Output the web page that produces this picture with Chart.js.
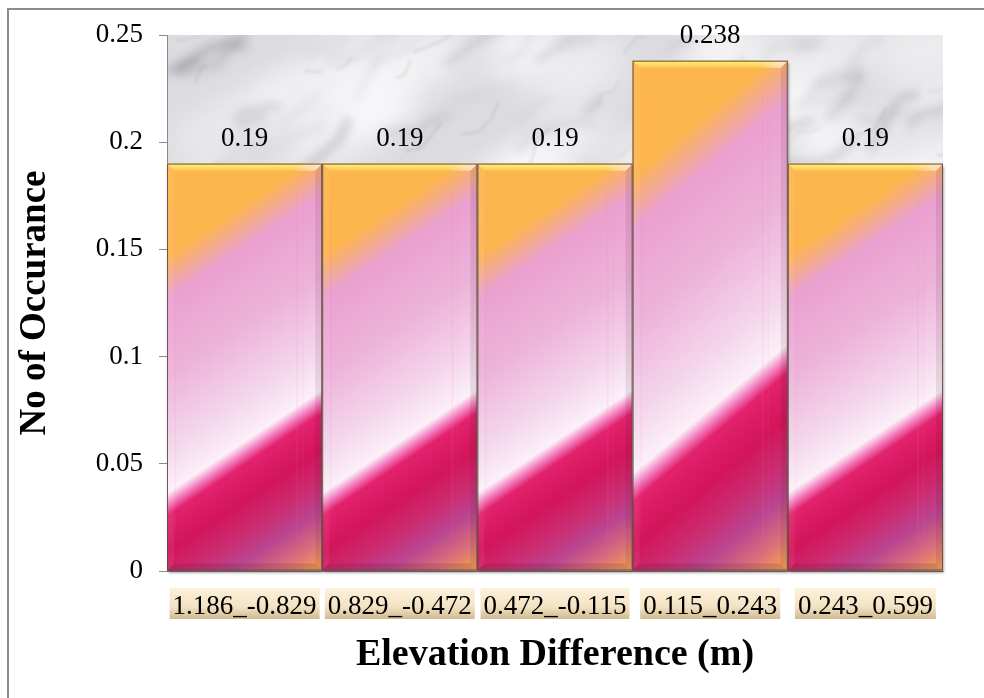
<!DOCTYPE html>
<html>
<head>
<meta charset="utf-8">
<script src="https://cdn.jsdelivr.net/npm/chart.js@4.4.1/dist/chart.umd.min.js"></script>
<style>
  html, body { margin: 0; padding: 0; background: #fff; overflow: hidden; }
  #frame { position: absolute; left: 7px; top: 8px; width: 1200px; height: 900px;
           border: 2px solid #8c8c8c; box-sizing: border-box; }
  #wrap { position: absolute; left: 0; top: 0; width: 984px; height: 698px; }
</style>
</head>
<body>
<div id="frame"></div>
<div id="wrap"><canvas id="chart" width="984" height="698"></canvas></div>
<script>
// Elevation-difference classes and their relative frequency
const categories = ['1.186_-0.829', '0.829_-0.472', '0.472_-0.115', '0.115_0.243', '0.243_0.599'];
const occurrence = [0.19, 0.19, 0.19, 0.238, 0.19];
const yTickValues = [0, 0.05, 0.1, 0.15, 0.2, 0.25];

const SERIF = "'Liberation Serif', 'Times New Roman', serif";

// small seeded generator so the marble texture is the same on every load
function seeded(seed) {
  return function () {
    seed = (seed + 0x6D2B79F5) | 0;
    let t = Math.imul(seed ^ (seed >>> 15), 1 | seed);
    t = (t + Math.imul(t ^ (t >>> 7), 61 | t)) ^ t;
    return ((t ^ (t >>> 14)) >>> 0) / 4294967296;
  };
}

let marble = null;
function makeMarble(w, h) {
  const c = document.createElement('canvas');
  c.width = w; c.height = h;
  const g = c.getContext('2d');
  const r = seeded(23);
  g.fillStyle = '#dcdce0';
  g.fillRect(0, 0, w, h);
  // pale clouds
  g.filter = 'blur(16px)';
  for (let i = 0; i < 90; i++) {
    g.fillStyle = `rgba(250,250,252,${0.35 + 0.5 * r()})`;
    g.beginPath();
    g.ellipse(r() * w, r() * h, 25 + r() * 60, 10 + r() * 25, -0.5, 0, Math.PI * 2);
    g.fill();
  }
  // soft grey smudges
  g.filter = 'blur(5px)';
  for (let i = 0; i < 160; i++) {
    let x = r() * w, y = r() * h;
    const len = 20 + r() * 70;
    const ang = -0.3 - 0.55 * r();
    g.strokeStyle = `rgba(120,120,128,${0.10 + 0.25 * r()})`;
    g.lineWidth = 2 + r() * 7;
    g.lineCap = 'round';
    g.beginPath();
    g.moveTo(x, y);
    for (let s = 0; s < 4; s++) {
      const a = ang + (r() - 0.5) * 1.0;
      x += Math.cos(a) * len / 4;
      y += Math.sin(a) * len / 4;
      g.lineTo(x, y);
    }
    g.stroke();
  }
  // fine veins
  g.filter = 'blur(1.5px)';
  for (let i = 0; i < 70; i++) {
    let x = r() * w, y = r() * h;
    const len = 15 + r() * 45;
    const ang = -0.35 - 0.5 * r();
    g.strokeStyle = `rgba(110,110,118,${0.10 + 0.2 * r()})`;
    g.lineWidth = 1 + r() * 1.5;
    g.beginPath();
    g.moveTo(x, y);
    for (let s = 0; s < 3; s++) {
      const a = ang + (r() - 0.5) * 1.2;
      x += Math.cos(a) * len / 3;
      y += Math.sin(a) * len / 3;
      g.lineTo(x, y);
    }
    g.stroke();
  }
  g.filter = 'none';
  return c;
}

// Diagonal fill of each bar; isolines are slanted in the bar's own unit box
const SLANT = 0.254;
function barGradient(g, L, T, R, B) {
  const w = R - L, h = B - T;
  const a = SLANT / ((1 + SLANT) * w), b = 1 / ((1 + SLANT) * h);
  const n = a * a + b * b;
  const grad = g.createLinearGradient(L, T, L + a / n, T + b / n);
  grad.addColorStop(0.00, '#fdb64f');
  grad.addColorStop(0.18, '#fdb54e');
  grad.addColorStop(0.265, '#eaa0d0');
  grad.addColorStop(0.42, '#edb3da');
  grad.addColorStop(0.56, '#f4d6eb');
  grad.addColorStop(0.645, '#fbf0f8');
  grad.addColorStop(0.668, '#f37fbf');
  grad.addColorStop(0.69, '#e2226d');
  grad.addColorStop(0.76, '#d3155a');
  grad.addColorStop(0.82, '#cc2a6f');
  grad.addColorStop(0.88, '#ba4590');
  grad.addColorStop(0.94, '#d9707a');
  grad.addColorStop(1.00, '#f7a94c');
  return grad;
}

function barFill(context) {
  const chart = context.chart;
  if (!chart.chartArea) return '#f0a0c8';
  const xs = chart.scales.x, ys = chart.scales.y;
  const i = context.dataIndex;
  const half = xs.width / categories.length / 2;
  const cx = xs.getPixelForValue(i);
  return barGradient(chart.ctx, cx - half, ys.getPixelForValue(occurrence[i]), cx + half, ys.getPixelForValue(0));
}

const decorations = {
  id: 'decorations',
  beforeDraw(chart) {
    const { ctx, chartArea: ca } = chart;
    // marble plot background
    if (!marble) marble = makeMarble(Math.round(ca.width), Math.round(ca.height));
    ctx.drawImage(marble, ca.left, ca.top, ca.width, ca.height);
    // shaded boxes behind the category labels
    const xs = chart.scales.x;
    ctx.save();
    ctx.font = `27px ${SERIF}`;
    const top = xs.top + 17, hgt = 31;
    const grad = ctx.createLinearGradient(0, top, 0, top + hgt);
    grad.addColorStop(0, '#fdf1dc');
    grad.addColorStop(0.6, '#f3e3c4');
    grad.addColorStop(1, '#cfbb93');
    ctx.fillStyle = grad;
    categories.forEach((c, i) => {
      const w = ctx.measureText(c).width + 6;
      ctx.fillRect(xs.getPixelForTick(i) - w / 2, top, w, hgt);
    });
    ctx.restore();
  },
  beforeDatasetsDraw(chart) {
    const ctx = chart.ctx;
    ctx.save();
    ctx.shadowColor = 'rgba(0,0,0,0.45)';
    ctx.shadowBlur = 3;
    ctx.shadowOffsetX = 1;
    ctx.shadowOffsetY = 2;
    ctx.fillStyle = '#777';
    chart.getDatasetMeta(0).data.forEach(el => {
      ctx.fillRect(el.x - el.width / 2, el.y, el.width, el.base - el.y);
    });
    ctx.restore();
  },
  afterDatasetsDraw(chart) {
    const ctx = chart.ctx;
    const bev = 7;
    ctx.save();
    chart.getDatasetMeta(0).data.forEach((el, i) => {
      const L = el.x - el.width / 2, R = el.x + el.width / 2, T = el.y, B = el.base;
      const poly = (pts, fill) => {
        ctx.beginPath();
        ctx.moveTo(pts[0][0], pts[0][1]);
        for (let k = 1; k < pts.length; k++) ctx.lineTo(pts[k][0], pts[k][1]);
        ctx.closePath();
        ctx.fillStyle = fill;
        ctx.fill();
      };
      // faint vertical sheen lines
      ctx.fillStyle = 'rgba(255,120,190,0.10)';
      ctx.fillRect(R - 26, T + 30, 2, B - T - 60);
      ctx.fillRect(R - 20, T + 30, 1, B - T - 60);
      ctx.fillRect(L + 8, T + 40, 1, B - T - 80);
      // bevel: top highlight
      const tg = ctx.createLinearGradient(0, T, 0, T + bev);
      tg.addColorStop(0, '#fff37e');
      tg.addColorStop(1, '#fdc552');
      poly([[L, T], [R, T], [R - bev, T + bev], [L + bev, T + bev]], tg);
      const cg = ctx.createLinearGradient(R - 30, 0, R, 0);
      cg.addColorStop(0, 'rgba(255,230,240,0)');
      cg.addColorStop(1, 'rgba(255,225,240,0.8)');
      poly([[R - 30, T], [R, T], [R - bev, T + bev], [R - 30, T + bev]], cg);
      // right and bottom in shade, left lit
      poly([[R, T], [R, B], [R - bev, B - bev], [R - bev, T + bev]], 'rgba(70,20,40,0.10)');
      poly([[L, B], [R, B], [R - bev, B - bev], [L + bev, B - bev]], 'rgba(90,20,40,0.16)');
      poly([[L, T], [L, B], [L + bev, B - bev], [L + bev, T + bev]], 'rgba(255,255,255,0.06)');
      ctx.strokeStyle = 'rgba(95,75,65,0.9)';
      ctx.lineWidth = 1;
      ctx.strokeRect(L + 0.5, T + 0.5, R - L - 1, B - T - 1);
      // value label
      ctx.fillStyle = '#000';
      ctx.font = `27px ${SERIF}`;
      ctx.textAlign = 'center';
      ctx.textBaseline = 'alphabetic';
      ctx.fillText(String(occurrence[i]), el.x, T - 18);
    });
    ctx.restore();
  }
};

new Chart(document.getElementById('chart'), {
  type: 'bar',
  data: {
    labels: categories,
    datasets: [{
      data: occurrence,
      backgroundColor: barFill,
      borderWidth: 0,
      barPercentage: 1,
      categoryPercentage: 1
    }]
  },
  options: {
    responsive: false,
    animation: false,
    devicePixelRatio: 1,
    layout: { padding: { left: 0, top: 35, right: 41, bottom: 0 } },
    plugins: { legend: { display: false }, tooltip: { enabled: false } },
    scales: {
      x: {
        grid: { display: false },
        border: { display: true, color: '#8a8a8a', width: 1 },
        ticks: { font: { family: SERIF, size: 27 }, color: '#000', padding: 12, maxRotation: 0, autoSkip: false },
        title: {
          display: true, text: 'Elevation Difference (m)', color: '#000',
          font: { family: SERIF, size: 38, weight: 'bold' },
          padding: { top: 0, bottom: 20 }
        },
        afterFit(scale) { scale.height = 127; }
      },
      y: {
        min: 0, max: 0.25,
        afterBuildTicks(scale) { scale.ticks = yTickValues.map(v => ({ value: v })); },
        ticks: {
          font: { family: SERIF, size: 27 }, color: '#000', padding: 16,
          callback: v => String(Number(v.toFixed(3)))
        },
        grid: { drawOnChartArea: false, drawTicks: true, tickLength: 8, color: '#8a8a8a' },
        border: { display: true, color: '#8a8a8a', width: 1 },
        title: {
          display: true, text: 'No of Occurance', color: '#000',
          font: { family: SERIF, size: 37, weight: 'bold' },
          padding: { top: 13, bottom: 0 }
        },
        afterFit(scale) { scale.width = 167; }
      }
    }
  },
  plugins: [decorations]
});
</script>
</body>
</html>
